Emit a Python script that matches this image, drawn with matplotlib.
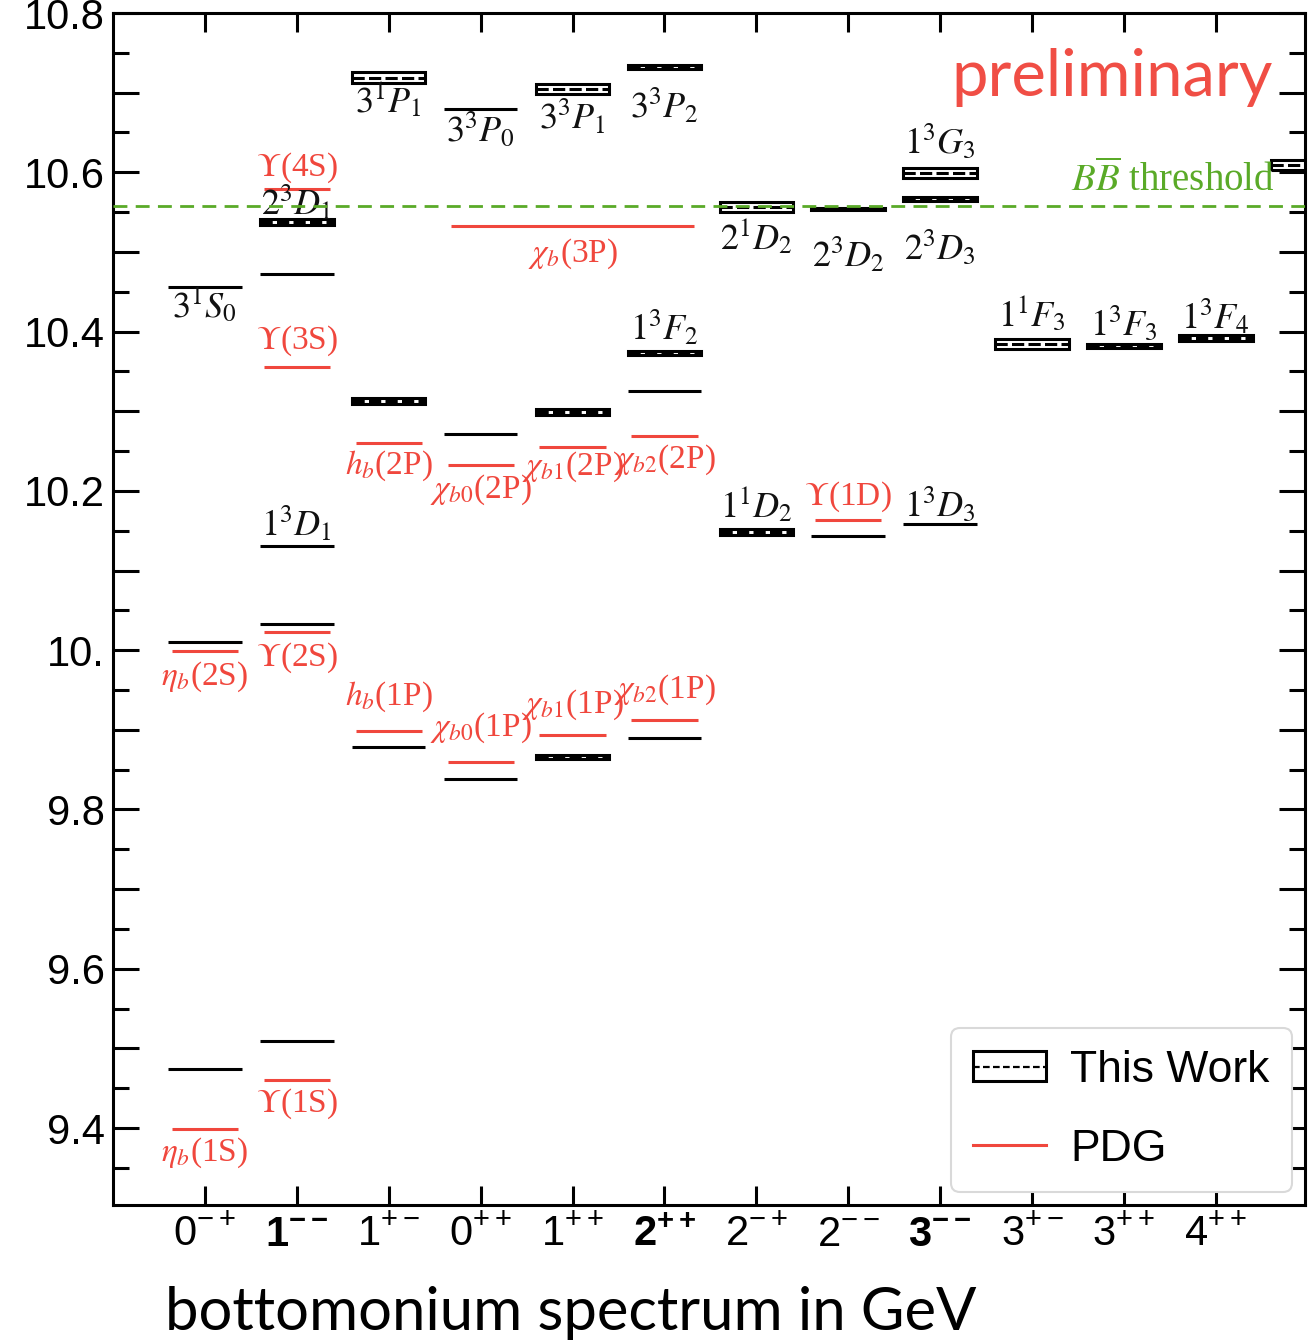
import matplotlib
matplotlib.use('Agg')
import matplotlib.pyplot as plt
from matplotlib.patches import Rectangle
from matplotlib.lines import Line2D
from matplotlib.ticker import FixedLocator, FixedFormatter, MultipleLocator

# ---------------- data ----------------
jpc_labels = [r'$0^{-+}$', r'$\mathbf{1^{--}}$', r'$1^{+-}$', r'$0^{++}$', r'$1^{++}$', r'$\mathbf{2^{++}}$',
              r'$2^{-+}$', r'$2^{--}$', r'$\mathbf{3^{--}}$', r'$3^{+-}$', r'$3^{++}$', r'$4^{++}$']

# This work (lattice): category index, mass (GeV), half error (GeV)
lat_cat = [1, 1, 1,
           2, 2, 2, 2, 2,
           3, 3, 3,
           4, 4, 4,
           5, 5, 5,
           6, 6, 6, 6,
           7, 7,
           8, 8,
           9, 9, 9,
           10, 11, 12, 13]
lat_mass = [10.456, 10.010, 9.474,
            10.538, 10.472, 10.131, 10.033, 9.509,
            10.719, 10.313, 9.878,
            10.680, 10.272, 9.838,
            10.705, 10.299, 9.866,
            10.732, 10.373, 10.325, 9.890,
            10.557, 10.148,
            10.554, 10.143,
            10.599, 10.567, 10.158,
            10.385, 10.382, 10.392, 10.609]
lat_err = [0, 0, 0,
           0.0038, 0, 0, 0, 0,
           0.0063, 0.0038, 0,
           0, 0, 0,
           0.0063, 0.0038, 0.0025,
           0.0025, 0.0025, 0, 0,
           0.0063, 0.0038,
           0.0012, 0,
           0.0063, 0.0025, 0,
           0.0063, 0.0022, 0.0038, 0.0063]

# PDG: category index, mass (GeV)
pdg_cat = [1, 1, 2, 2, 2, 2, 3, 3, 4, 4, 5, 5, 6, 6, 8]
pdg_mass = [9.999, 9.399, 10.579, 10.355, 10.023, 9.460, 10.260, 9.899,
            10.2325, 9.859, 10.2555, 9.893, 10.2687, 9.912, 10.1637]
# chi_b(3P) spans the 0++, 1++, 2++ columns
pdg_wide_cats = (4, 6)
pdg_wide_mass = 10.533

threshold = 10.558

black_labels = [
    (r'$3^{1}S_{0}$', 1, 10.433),
    (r'$2^{3}D_{1}$', 2, 10.561),
    (r'$1^{3}D_{1}$', 2, 10.157),
    (r'$3^{1}P_{1}$', 3, 10.690),
    (r'$3^{3}P_{0}$', 4, 10.653),
    (r'$3^{3}P_{1}$', 5, 10.668),
    (r'$3^{3}P_{2}$', 6, 10.682),
    (r'$1^{3}F_{2}$', 6, 10.404),
    (r'$2^{1}D_{2}$', 7, 10.518),
    (r'$1^{1}D_{2}$', 7, 10.182),
    (r'$2^{3}D_{2}$', 8, 10.495),
    (r'$1^{3}G_{3}$', 9, 10.638),
    (r'$2^{3}D_{3}$', 9, 10.505),
    (r'$1^{3}D_{3}$', 9, 10.182),
    (r'$1^{1}F_{3}$', 10, 10.421),
    (r'$1^{3}F_{3}$', 11, 10.410),
    (r'$1^{3}F_{4}$', 12, 10.417),
]
red_labels = [
    (r'$\eta_b$(2S)', 1, 9.967),
    (r'$\eta_b$(1S)', 1, 9.369),
    (r'$\Upsilon$(4S)', 2, 10.606),
    (r'$\Upsilon$(3S)', 2, 10.389),
    (r'$\Upsilon$(2S)', 2, 9.991),
    (r'$\Upsilon$(1S)', 2, 9.431),
    (r'$h_b$(2P)', 3, 10.232),
    (r'$h_b$(1P)', 3, 9.941),
    (r'$\chi_{b0}$(2P)', 4, 10.201),
    (r'$\chi_{b0}$(1P)', 4, 9.902),
    (r'$\chi_b$(3P)', 5, 10.498),
    (r'$\chi_{b1}$(2P)', 5, 10.230),
    (r'$\chi_{b1}$(1P)', 5, 9.931),
    (r'$\chi_{b2}$(2P)', 6, 10.239),
    (r'$\chi_{b2}$(1P)', 6, 9.950),
    (r'$\Upsilon$(1D)', 8, 10.192),
]

yticks = [9.4, 9.5, 9.6, 9.7, 9.8, 9.9, 10.0, 10.1, 10.2, 10.3, 10.4, 10.5, 10.6, 10.7, 10.8]
ytick_labels = ['9.4', '', '9.6', '', '9.8', '', '10.', '', '10.2', '', '10.4', '', '10.6', '', '10.8']

# ---------------- style ----------------
RED = '#f0473d'
GREEN = '#5aaa28'
LW = 2.2

plt.rcParams['mathtext.fontset'] = 'custom'
plt.rcParams['mathtext.rm'] = 'Liberation Sans'
plt.rcParams['mathtext.it'] = 'Liberation Sans:italic'
plt.rcParams['mathtext.bf'] = 'Liberation Sans:bold'
plt.rcParams['font.family'] = ['Liberation Sans', 'DejaVu Sans']

W, H = 1309, 1343
fig = plt.figure(figsize=(W / 100, H / 100), dpi=100)
ax = fig.add_axes([113 / W, 1 - 1205 / H, (1305 - 113) / W, (1205 - 13) / H])
ax.set_xlim(0, 12.97)
ax.set_ylim(9.3034, 10.8)

hw_lat = 0.4
hw_pdg = 0.36
dash = (0, (4, 1.4))

for c, m, e in zip(lat_cat, lat_mass, lat_err):
    if e > 0:
        ax.add_patch(Rectangle((c - hw_lat, m - e), 2 * hw_lat, 2 * e, fill=False,
                               ec='k', lw=LW, zorder=3))
        ax.plot([c - hw_lat, c + hw_lat], [m, m], color='k', lw=LW, ls=dash,
                solid_capstyle='butt', dash_capstyle='butt', zorder=3)
    else:
        ax.plot([c - hw_lat, c + hw_lat], [m, m], color='k', lw=LW,
                solid_capstyle='butt', zorder=3)

for c, m in zip(pdg_cat, pdg_mass):
    ax.plot([c - hw_pdg, c + hw_pdg], [m, m], color=RED, lw=LW, solid_capstyle='butt', zorder=2)
ax.plot([pdg_wide_cats[0] - 0.32, pdg_wide_cats[1] + 0.32], [pdg_wide_mass] * 2,
        color=RED, lw=LW, solid_capstyle='butt', zorder=2)

ax.axhline(threshold, color=GREEN, lw=2.0, ls=(0, (5, 3)), zorder=6)

for t, c, y in black_labels:
    ax.text(c, y, t, ha='center', va='center', fontsize=26, color='#111111',
            math_fontfamily='stix', zorder=4)
for t, c, y in red_labels:
    ax.text(c, y, t, ha='center', va='center', fontsize=24, color=RED,
            family=['Liberation Serif'], math_fontfamily='stix', zorder=4)

ax.text(12.64, 10.590, r'$B\overline{B}$ threshold', ha='right', va='center', fontsize=28,
        color=GREEN, family=['Liberation Serif'], math_fontfamily='stix', zorder=4)
ax.text(12.62, 10.719, 'preliminary', ha='right', va='center', fontsize=47,
        color='#f04e45', family=['Lato'], zorder=4)

# ticks
ax.set_xticks(range(1, 13))
ax.set_xticklabels(jpc_labels)
ax.tick_params(axis='x', which='major', direction='in', length=13.7, width=LW,
               top=True, bottom=True, labelsize=30, pad=7)
ax.yaxis.set_major_locator(FixedLocator(yticks))
ax.yaxis.set_major_formatter(FixedFormatter(ytick_labels))
ax.yaxis.set_minor_locator(MultipleLocator(0.05))
ax.tick_params(axis='y', which='major', direction='in', length=19, width=LW,
               left=True, right=True, labelsize=30, pad=6)
ax.tick_params(axis='y', which='minor', direction='in', length=11.5, width=LW,
               left=True, right=True)
for s in ax.spines.values():
    s.set_linewidth(LW)

# legend
h1 = (Rectangle((0, 0), 1, 1, fill=False, ec='k', lw=LW),
      Line2D([], [], color='k', lw=1.6, ls=(0, (3, 1.5))))
h2 = Line2D([], [], color=RED, lw=LW)
leg = ax.legend([h1, h2], ['This Work', 'PDG'], loc='lower right',
                bbox_to_anchor=(0.989, 0.011), borderaxespad=0, fontsize=32,
                handlelength=1.64, handleheight=0.66, labelspacing=0.85,
                handletextpad=0.55, borderpad=0.5, fancybox=True, framealpha=1)
leg.get_frame().set_edgecolor('#d9d9d9')
leg.get_frame().set_linewidth(1.5)
leg.set_zorder(7)

fig.text(165 / W, 1 - 1330 / H, 'bottomonium spectrum in GeV', fontsize=43,
         family=['Lato'], ha='left', va='baseline')

fig.savefig('out.png', dpi=100)
